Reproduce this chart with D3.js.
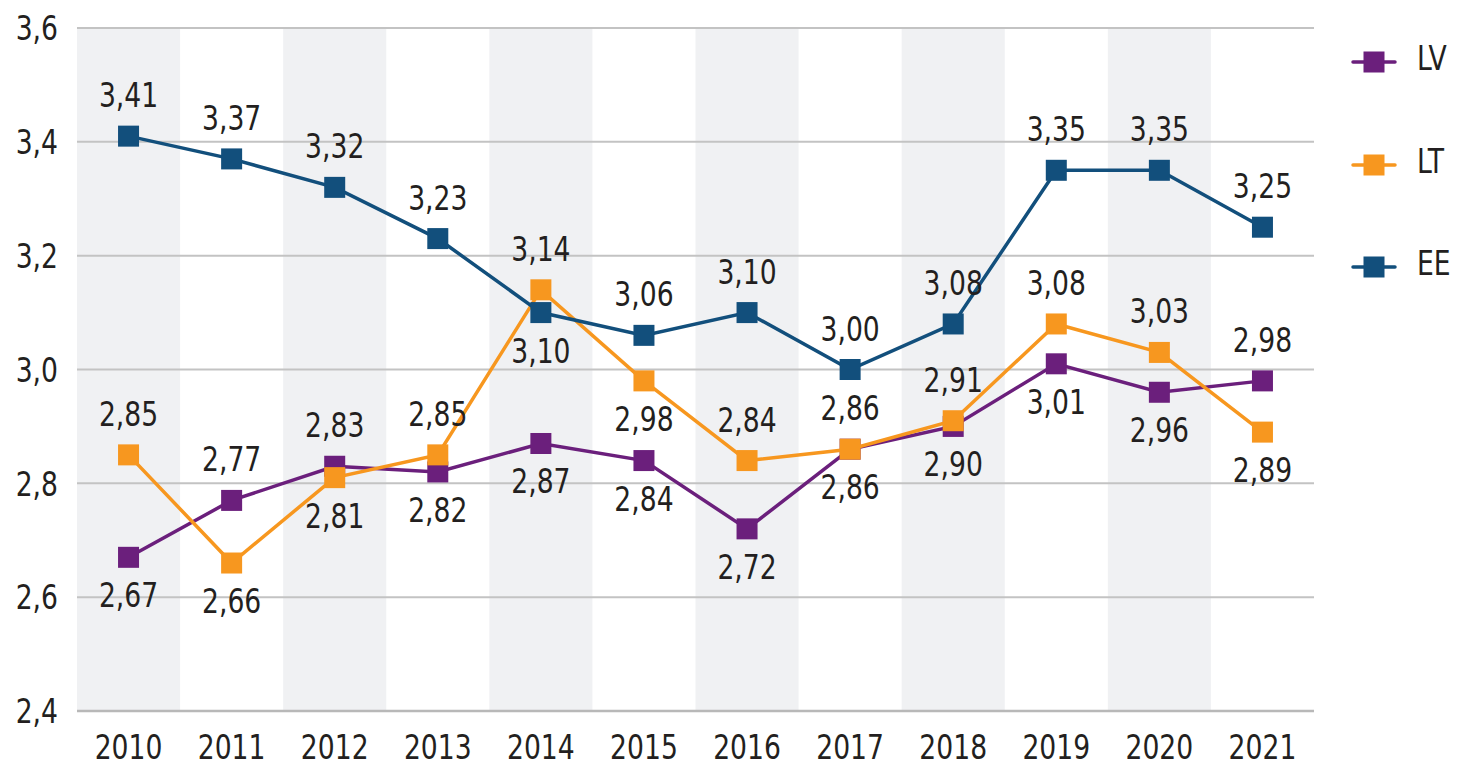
<!DOCTYPE html>
<html><head><meta charset="utf-8">
<script src="https://cdn.jsdelivr.net/npm/d3@7"></script>
<style>body{margin:0;background:#fff}svg{display:block}text{font-family:"DejaVu Sans Condensed","DejaVu Sans",sans-serif;fill:#231f20}</style>
</head><body><svg id="c" width="1458" height="767"></svg>
<script>
const years = ["2010","2011","2012","2013","2014","2015","2016","2017","2018","2019","2020","2021"];
const lv = [2.67,2.77,2.83,2.82,2.87,2.84,2.72,2.86,2.90,3.01,2.96,2.98];
const lt = [2.85,2.66,2.81,2.85,3.14,2.98,2.84,2.86,2.91,3.08,3.03,2.89];
const ee = [3.41,3.37,3.32,3.23,3.10,3.06,3.10,3.00,3.08,3.35,3.35,3.25];
// label position: 1 = above, -1 = below
const lvPos = [-1,1,1,-1,-1,-1,-1,-1,-1,-1,-1,1];
const ltPos = [1,-1,-1,1,1,-1,1,1,1,1,1,-1];
const eePos = [1,1,1,1,-1,1,1,1,1,1,1,1];
const yTicks = [2.4,2.6,2.8,3.0,3.2,3.4,3.6];
const seriesNames = ["LV","LT","EE"];
const colors = ["#6b1f7c","#f7971f","#124f7c"];

const svg = d3.select("#c");
const L=77,R=1314,T=28,B=711;
const FS=34, K=0.87;
const x = d3.scaleBand().domain(years).range([L,R]).padding(0);
const y = d3.scaleLinear().domain([2.4,3.6]).range([B,T]);
const fmt = v => d3.format(".2f")(v).replace(".",",");
function squeeze(sel){
  sel.each(function(){
    const w=this.getComputedTextLength();
    d3.select(this).attr("textLength",w*K).attr("lengthAdjust","spacingAndGlyphs");
  });
}

// bands
svg.append("g").selectAll("rect").data(years.filter((d,i)=>i%2===0)).join("rect")
  .attr("x",d=>x(d)).attr("y",T).attr("width",x.bandwidth()).attr("height",B-T).attr("fill","#f0f1f3");
// grid
svg.append("g").selectAll("line").data(yTicks).join("line")
  .attr("x1",L).attr("x2",R).attr("y1",d=>y(d)).attr("y2",d=>y(d))
  .attr("stroke",d=>d===2.4?"#b8b8b8":"#c3c3c3").attr("stroke-width",d=>d===2.4?2.5:2);
// y labels
svg.append("g").selectAll("text").data(yTicks).join("text")
  .attr("x",58).attr("y",d=>y(d)+12.3).attr("text-anchor","end")
  .attr("font-size",FS).text(d=>d3.format(".1f")(d).replace(".",",")).call(squeeze);
// x labels
svg.append("g").selectAll("text").data(years).join("text")
  .attr("x",d=>x(d)+x.bandwidth()/2).attr("y",759).attr("text-anchor","middle")
  .attr("font-size",FS).text(d=>d).call(squeeze);

const data = [lv,lt,ee], pos=[lvPos,ltPos,eePos];
const cx = d => x(d)+x.bandwidth()/2;
const line = d3.line().x((v,i)=>cx(years[i])).y(v=>y(v));
const M=21;
data.forEach((vals,s)=>{
  const g = svg.append("g");
  g.append("path").datum(vals).attr("d",line).attr("fill","none").attr("stroke",colors[s]).attr("stroke-width",3.5);
  g.selectAll("rect").data(vals).join("rect")
    .attr("x",(v,i)=>cx(years[i])-M/2).attr("y",v=>y(v)-M/2).attr("width",M).attr("height",M)
    .attr("fill",colors[s]);
});
data.forEach((vals,s)=>{
  svg.append("g").selectAll("text").data(vals).join("text")
    .attr("x",(v,i)=>cx(years[i])).attr("y",(v,i)=>y(v)+(pos[s][i]===1?-29:50))
    .attr("text-anchor","middle").attr("font-size",FS).text(v=>fmt(v)).call(squeeze);
});
// legend
const ly = [62,165,267];
seriesNames.forEach((n,s)=>{
  const g = svg.append("g");
  g.append("line").attr("x1",1353).attr("x2",1395).attr("y1",ly[s]).attr("y2",ly[s]).attr("stroke",colors[s]).attr("stroke-width",3.5).attr("stroke-linecap","round");
  g.append("rect").attr("x",1374-M/2).attr("y",ly[s]-M/2).attr("width",M).attr("height",M).attr("fill",colors[s]);
  g.append("text").attr("x",1417).attr("y",ly[s]+7.5).attr("font-size",FS).text(n).call(squeeze);
});
</script></body></html>
